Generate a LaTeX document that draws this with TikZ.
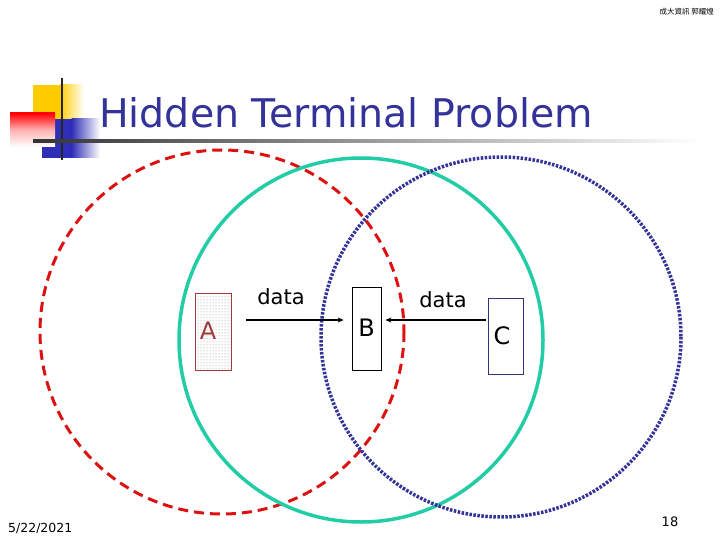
\documentclass[tikz,border=0pt]{standalone}
\usepackage{fontspec}
\setmainfont{DejaVu Sans}
\newfontfamily\cjk{Noto Sans CJK TC}
\newfontfamily\lab{DejaVu Sans}
\usetikzlibrary{patterns,arrows.meta}
\definecolor{titleblue}{HTML}{333399}
\definecolor{redd}{HTML}{DD1111}
\definecolor{tealc}{HTML}{22CCA4}
\definecolor{bluec}{HTML}{333399}
\definecolor{boxred}{HTML}{A03C3C}
\definecolor{boxblue}{HTML}{333377}
\definecolor{logoyellow}{HTML}{FFCC00}
\definecolor{logoblue}{HTML}{2E2EB8}
\tikzset{
  stationbox/.style={draw, line width=0.8pt, inner sep=0pt},
  link/.style={line width=1.6pt, -{Stealth[length=6pt,width=5pt]}},
  lbl/.style={font=\lab\fontsize{21}{24}\selectfont},
  letter/.style={font=\lab\fontsize{24}{28}\selectfont},
}
\begin{document}
\begin{tikzpicture}[x=1pt,y=-1pt]
\useasboundingbox (0,0) rectangle (720,540);
% logo
\fill[logoyellow] (33,85) rectangle (60,120);
\shade[left color=logoyellow, right color=white] (59.5,85) rectangle (84,120);
\fill[logoblue] (42,119) rectangle (72,158);
\shade[left color=logoblue, right color=white] (71.5,119) rectangle (100,158);
\shade[shading=axis, shading angle=235, top color=red, bottom color=white, middle color=red!30] (10,113) rectangle (55,147);
\draw[line width=2.5pt, black!85] (62,78) -- (62,160);
\shade[left color=black!80, right color=white] (33,139.8) rectangle (700,142.2);
% title
\node[anchor=base west, text=titleblue, font=\fontsize{39.5}{44}\selectfont, inner sep=0pt] (title) at (99,128) {Hidden Terminal Problem};
\node[anchor=east, font=\cjk\fontsize{7.5}{9}\selectfont, inner sep=0pt] (hdr) at (714,12) {成大資訊 郭耀煌};
% circles
\draw[redd, line width=3pt, dash pattern=on 10pt off 6pt] (222,332) circle[radius=182];
\draw[tealc, line width=3.5pt] (361,340) circle[radius=182];
\draw[bluec, line width=3.5pt, dash pattern=on 2.5pt off 1.5pt] (501,337) circle[radius=180];
% stations
\node[stationbox, draw=boxred, pattern=dots, pattern color=black!45, minimum width=36pt, minimum height=77pt] (A) at (213,331.5) {};
\node[letter, text=boxred] (Alab) at (208,331) {A};
\node[stationbox, draw=black, fill=white, minimum width=29pt, minimum height=83pt] (B) at (366.5,328.5) {};
\node[letter] (Blab) at (366.5,328) {B};
\node[stationbox, draw=boxblue, fill=white, minimum width=35pt, minimum height=76pt] (C) at (505.5,336) {};
\node[letter] (Clab) at (502,336) {C};
% arrows
\coordinate (a1) at (246,320);
\coordinate (c1) at (486,320);
\draw[link] (a1) -- ([xshift=-8pt]B.west |- a1);
\draw[link] (c1) -- ([xshift=4pt]B.east |- c1);
\node[lbl] (d1) at (281,297) {data};
\node[lbl] (d2) at (443,300) {data};
% footer
\node[anchor=west, font=\fontsize{12.5}{15}\selectfont, inner sep=0pt] (date) at (8,528) {5/22/2021};
\node[font=\fontsize{13}{15}\selectfont, inner sep=0pt] (pg) at (670,522) {18};
\end{tikzpicture}
\end{document}
